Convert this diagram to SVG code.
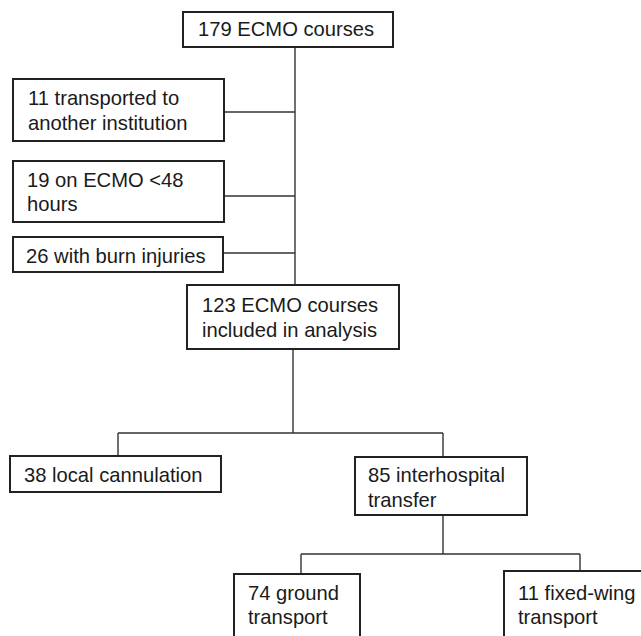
<svg xmlns="http://www.w3.org/2000/svg" width="641" height="636" viewBox="0 0 641 636">
<style>
.box{fill:#fff;stroke:#222;stroke-width:2}
.t{font-family:"Liberation Sans",Arial,sans-serif;font-size:20.2px;fill:#1a1a1a}
.c{fill:none;stroke:#333;stroke-width:1.4}
</style>
<rect width="641" height="636" fill="#fff"/>
<g id="connectors">
<path class="c" d="M295,47 V285"/>
<path class="c" d="M224,112 H295"/>
<path class="c" d="M224,196 H295"/>
<path class="c" d="M223,253 H295"/>
<path class="c" d="M293,349 V433 M118,433 H443 M118,433 V456 M443,433 V457"/>
<path class="c" d="M443,515 V554 M301,554 H580 M301,554 V574 M580,554 V571"/>
</g>
<g id="n179">
<rect class="box" x="183" y="12" width="210" height="35"/>
<text class="t" x="198" y="36">179 ECMO courses</text>
</g>
<g id="n11transported">
<rect class="box" x="13" y="79" width="211" height="62"/>
<text class="t" x="28" y="105">11 transported to</text>
<text class="t" x="28" y="130">another institution</text>
</g>
<g id="n19">
<rect class="box" x="13" y="161" width="211" height="61"/>
<text class="t" x="27" y="187">19 on ECMO &lt;48</text>
<text class="t" x="27" y="211">hours</text>
</g>
<g id="n26">
<rect class="box" x="13" y="237" width="210" height="35"/>
<text class="t" x="26" y="263">26 with burn injuries</text>
</g>
<g id="n123">
<rect class="box" x="187" y="285" width="212" height="64"/>
<text class="t" x="202" y="312">123 ECMO courses</text>
<text class="t" x="202" y="337">included in analysis</text>
</g>
<g id="n38">
<rect class="box" x="10" y="456" width="211" height="36"/>
<text class="t" x="24" y="482">38 local cannulation</text>
</g>
<g id="n85">
<rect class="box" x="355" y="457" width="172" height="58"/>
<text class="t" x="368" y="482">85 interhospital</text>
<text class="t" x="368" y="507">transfer</text>
</g>
<g id="n74">
<rect class="box" x="234" y="574" width="126" height="70"/>
<text class="t" x="248" y="600">74 ground</text>
<text class="t" x="248" y="624">transport</text>
</g>
<g id="n11fixed">
<rect class="box" x="504" y="571" width="145" height="73"/>
<text class="t" x="518" y="600">11 fixed-wing</text>
<text class="t" x="518" y="624">transport</text>
</g>
</svg>
